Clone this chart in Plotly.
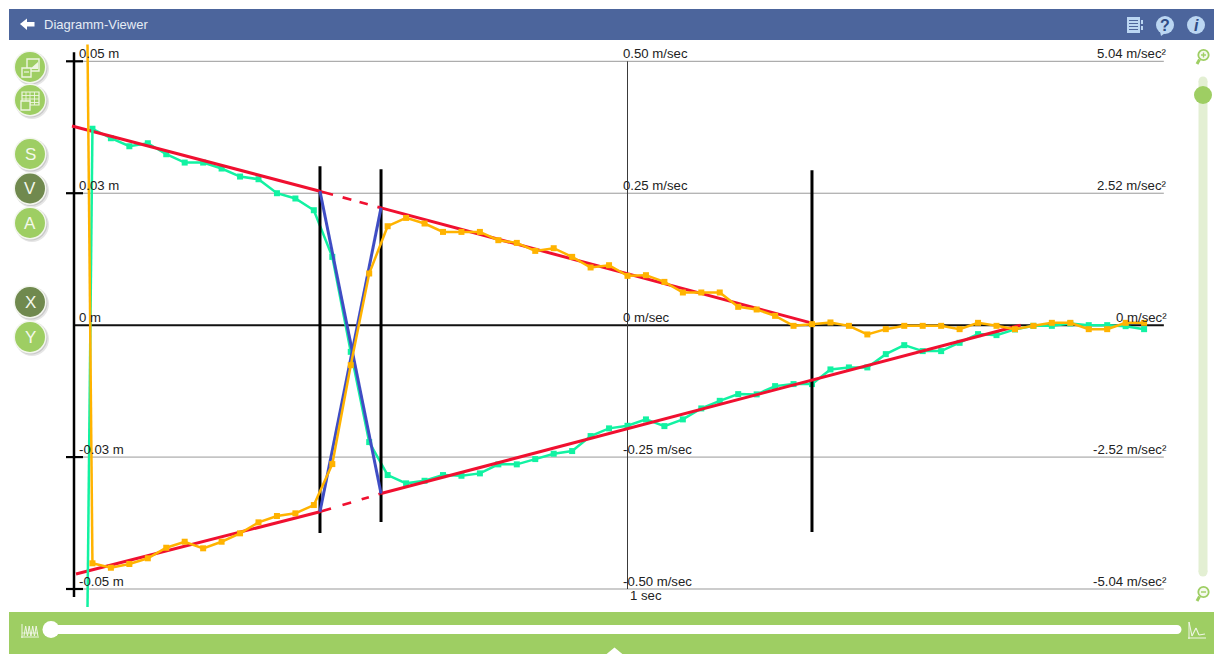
import plotly.graph_objects as go

# ---------- data ----------
times = [0.0244, 1/30, 2/30, 3/30, 4/30, 5/30, 6/30, 7/30, 8/30, 9/30, 10/30, 11/30, 12/30, 13/30, 14/30, 15/30,
         16/30, 17/30, 18/30, 19/30, 20/30, 21/30, 22/30, 23/30, 24/30, 25/30, 26/30, 27/30, 28/30, 29/30, 30/30,
         31/30, 32/30, 33/30, 34/30, 35/30, 36/30, 37/30, 38/30, 39/30, 40/30, 41/30, 42/30, 43/30, 44/30, 45/30,
         46/30, 47/30, 48/30, 49/30, 50/30, 51/30, 52/30, 53/30, 54/30, 55/30, 56/30, 57/30, 58/30]

green_m = [-0.0534, 0.03722, 0.03542, 0.03390, 0.03447, 0.03239, 0.03081, 0.03081, 0.02968, 0.02816, 0.02765,
           0.02500, 0.02400, 0.02178, 0.01294, -0.00506, -0.02216, -0.02841, -0.02998, -0.02949, -0.02841,
           -0.02854, -0.02809, -0.02638, -0.02638, -0.02538, -0.02437, -0.02386, -0.02102, -0.01956, -0.01907,
           -0.01786, -0.01913, -0.01786, -0.01578, -0.01434, -0.01307, -0.01312, -0.01155, -0.01117, -0.01117,
           -0.00839, -0.00801, -0.00801, -0.00549, -0.00379, -0.00492, -0.00492, -0.00335, -0.00170, -0.00189,
           -0.00081, -0.00013, -0.00013, 0.00032, 0.0, 0.0, -0.00019, -0.00076]

orange_ms = [0.532, -0.4513, -0.4597, -0.4526, -0.4418, -0.4218, -0.4104, -0.4229, -0.4104, -0.3945, -0.3737,
             -0.3617, -0.3566, -0.3409, -0.2633, -0.0758, 0.0979, 0.1875, 0.2032, 0.1926, 0.1767, 0.1767, 0.1767,
             0.1610, 0.1559, 0.1407, 0.1458, 0.1294, 0.1093, 0.1136, 0.0934, 0.0947, 0.0820, 0.0619, 0.0619,
             0.0619, 0.0347, 0.0297, 0.0176, -0.0013, 0.0019, 0.0051, -0.0013, -0.0176, -0.0076, -0.0013, -0.0013,
             -0.0013, -0.0076, 0.0044, -0.0013, -0.0076, -0.0013, 0.0044, 0.0044, -0.0076, -0.0076, 0.0044, 0.0044]

red_solid_top_t = [-0.0036, 0.4444]
red_solid_top_y = [0.03775, 0.02538]
red_dash_top_t = [0.4444, 0.5547]
red_dash_top_y = [0.02538, 0.02223]
red_solid_top2_t = [0.5547, 1.3333]
red_solid_top2_y = [0.02223, 0.00038]
red_solid_bot_t = [0.0036, 0.4444]
red_solid_bot_y = [-0.04716, -0.03536]
red_dash_bot_t = [0.4444, 0.5547]
red_dash_bot_y = [-0.03536, -0.03191]
red_solid_bot2_t = [0.5547, 1.7104]
red_solid_bot2_y = [-0.03191, 0.0]

blue_a_t = [0.4444, 0.5547]
blue_a_y = [0.02538, -0.03191]
blue_b_t = [0.4444, 0.5547]
blue_b_y = [-0.03536, 0.02223]

cursor_t = [0.4444, 0.5547, 1.3333]
cursor_top = [0.03011, 0.02955, 0.02936]
cursor_bot = [-0.03939, -0.03731, -0.03920]

y_ticks = [0.05, 0.025, 0, -0.025, -0.05]
m_labels = ["0.05 m", "0.03 m", "0 m", "-0.03 m", "-0.05 m"]
ms_labels = ["0.50 m/sec", "0.25 m/sec", "0 m/sec", "-0.25 m/sec", "-0.50 m/sec"]
ms2_labels = ["5.04 m/sec²", "2.52 m/sec²", "0 m/sec²", "-2.52 m/sec²", "-5.04 m/sec²"]
x_tick = [1]
x_labels = ["1 sec"]
x_end = [1.969]
button_labels = ["S", "V", "A", "X", "Y"]
title_text = "Diagramm-Viewer"

# ---------- styling ----------
W, H = 1214, 654
FONT = "Liberation Sans"
GREEN = "#12F2A2"
ORANGE = "#FFB300"
RED = "#F01030"
BLUE = "#3F4DC4"
BAR = "#4C659C"
LIME = "#9ECE63"
DARK = "#70894E"
TRACK = "#E3EFD3"
LBLUE = "#BBD6F2"

PX_ORIGIN, PY_ZERO, PX_PER_SEC, PX_PER_M = 74.0, 325.15, 553.5, 5277.0


def px(x):
    return x / W


def py(y):
    return 1 - y / H


shapes = []
annots = []


def rect(x0, y0, x1, y1, fill, line=None, lw=1, layer="below", opacity=1):
    shapes.append(dict(type="rect", xref="paper", yref="paper", x0=px(x0), x1=px(x1), y0=py(y1), y1=py(y0),
                       fillcolor=fill, opacity=opacity, layer=layer,
                       line=dict(width=lw if line else 0, color=line or fill)))


def circle(cx, cy, r, fill, line=None, lw=1, opacity=1, layer="below"):
    shapes.append(dict(type="circle", xref="paper", yref="paper", x0=px(cx - r), x1=px(cx + r), y0=py(cy + r),
                       y1=py(cy - r), fillcolor=fill, opacity=opacity, layer=layer,
                       line=dict(width=lw if line else 0, color=line or fill)))


def seg(x0, y0, x1, y1, color, lw=1, layer="below"):
    shapes.append(dict(type="line", xref="paper", yref="paper", x0=px(x0), x1=px(x1), y0=py(y0), y1=py(y1),
                       layer=layer, line=dict(color=color, width=lw)))


def poly(points, fill, layer="below"):
    path = "M " + " L ".join(f"{px(a):.5f},{py(b):.5f}" for a, b in points) + " Z"
    shapes.append(dict(type="path", xref="paper", yref="paper", path=path, fillcolor=fill, layer=layer,
                       line=dict(width=0, color=fill)))


def text(x, y, s, size=13, color="#222222", anchor="left", bold=False, italic=False):
    if bold:
        s = f"<b>{s}</b>"
    if italic:
        s = f"<i>{s}</i>"
    annots.append(dict(xref="paper", yref="paper", x=px(x), y=py(y), text=s,
                       showarrow=False, xanchor=anchor, yanchor="middle", borderpad=0, borderwidth=0,
                       font=dict(family=FONT, size=size, color=color)))


# header bar
rect(9, 9, W + 1, 40, BAR)
poly([(20, 24), (27, 18.5), (27, 22), (34.5, 22), (34.5, 26.5), (27, 26.5), (27, 30)], "#FFFFFF")
text(44, 24.5, title_text, size=13, color="#E6ECF5")
# header icons
rect(1127, 17, 1140, 33, LBLUE)
for yy in (20.5, 23.5, 26.5, 29.5):
    seg(1129, yy, 1138, yy, BAR, 1)
rect(1141, 20, 1143, 24, LBLUE)
rect(1141, 26, 1143, 30, LBLUE)
poly([(1160, 31), (1168, 31), (1161, 36)], LBLUE)
circle(1165, 25, 9, LBLUE)
text(1165, 25.5, "?", size=16, color="#2F4C85", anchor="center", bold=True)
circle(1196, 25, 9, LBLUE)
text(1196, 25.5, "i", size=16, color="#2F4C85", anchor="center", bold=True, italic=True)

# left round buttons
buttons = [(67, LIME, None), (100, LIME, None), (154, LIME, "S"), (188.5, DARK, "V"), (223, LIME, "A"),
           (302, DARK, "X"), (337, LIME, "Y")]
letter_iter = iter(button_labels)
for cy, col, has in buttons:
    circle(32, cy + 2, 17, "#000000", opacity=0.10)
    circle(31, cy + 1, 16.5, "#000000", opacity=0.12)
    circle(30, cy, 16.5, "#F3F6EE")
    circle(30, cy, 15, col)
    if has:
        text(30.2, cy + 0.5, next(letter_iter), size=17, color="#F4F8EC", anchor="center")
# save image icon
rect(27, 59, 39, 71, "rgba(0,0,0,0)", "#EEF5E2", 1.4)
rect(22, 68, 31, 77, LIME, "#EEF5E2", 1.4)
seg(24, 72, 29, 72, "#EEF5E2", 1.2)
poly([(30, 69), (38, 69), (38, 62)], "#EEF5E2")
# save table icon
rect(22, 92, 39, 105, "rgba(0,0,0,0)", "#EEF5E2", 1.2)
for yy in (95.5, 99, 102.5):
    seg(22, yy, 39, yy, "#EEF5E2", 0.9)
for xx in (26, 30, 34.5):
    seg(xx, 92, xx, 105, "#EEF5E2", 0.9)
rect(21, 101, 30, 110, LIME, "#EEF5E2", 1.3)

# right zoom slider
rect(1198.5, 81, 1207.5, 572, TRACK)
circle(1203, 81, 4.5, TRACK)
circle(1203, 572, 4.5, TRACK)
circle(1203, 95, 9, LIME)
for cy, plus in ((55, True), (592, False)):
    circle(1203.5, cy, 5.2, "#F5F9EE", LIME, 1.8)
    seg(1201, cy, 1206, cy, LIME, 1.4)
    if plus:
        seg(1203.5, cy - 2.5, 1203.5, cy + 2.5, LIME, 1.4)
    seg(1199.5, cy + 4.5, 1197, cy + 9, LIME, 3)

# bottom slider bar
rect(9, 612, W + 1, H + 1, LIME)
rect(50, 625, 1177, 634, "#FFFFFF")
circle(1177, 629.5, 4.5, "#FFFFFF")
circle(51, 629.5, 8.5, "#FFFFFF")
poly([(606, 654.5), (614.5, 647.5), (623, 654.5)], "#FFFFFF")
# bottom-left icon
seg(21, 637, 39, 637, "#F0F6E6", 1)
seg(22, 624, 22, 638, "#F0F6E6", 1)
for xx in (24, 27.5, 31, 34.5):
    seg(xx, 636, xx + 1.7, 626, "#F0F6E6", 1)
    seg(xx + 1.7, 626, xx + 3.4, 636, "#F0F6E6", 1)
seg(22, 633, 38, 633, "#F0F6E6", 0.8)
# bottom-right icon
seg(1188, 638, 1206, 638, "#F0F6E6", 1)
seg(1189, 622, 1189, 639, "#F0F6E6", 1)
for a, b, c, d in [(1189, 622, 1192, 636), (1192, 636, 1196, 628), (1196, 628, 1199, 635), (1199, 635, 1205, 634)]:
    seg(a, b, c, d, "#F0F6E6", 1.1)

# axis text
lab = dict(family=FONT, size=13.2, color="#222222")
for v, a, b, c in zip(y_ticks, m_labels, ms_labels, ms2_labels):
    annots.append(dict(xref="x", yref="y", x=0, xshift=3, y=v, yshift=8, text=a, showarrow=False, xanchor="left",
                       yanchor="middle", font=lab))
    annots.append(dict(xref="x", yref="y", x=x_tick[0], xshift=-6.5, y=v, yshift=8, text=b, showarrow=False,
                       xanchor="left", yanchor="middle", font=lab))
    annots.append(dict(xref="x", yref="y", x=x_end[0], xshift=5, y=v, yshift=8, text=c, showarrow=False,
                       xanchor="right", yanchor="middle", font=lab))
annots.append(dict(xref="x", yref="y", x=x_tick[0], xshift=0, y=y_ticks[-1], yshift=-6.5, text=x_labels[0],
                   showarrow=False, xanchor="left", yanchor="middle", font=lab))

fig = go.Figure()
no_hover = dict(hoverinfo="skip", showlegend=False)

# grid, zero line, centre line
for v in y_ticks:
    is_zero = v == 0
    fig.add_trace(go.Scatter(x=[0, x_end[0]], y=[v, v], mode="lines",
                             line=dict(color="#111111" if is_zero else "#999999", width=2 if is_zero else 1),
                             **no_hover))
fig.add_trace(go.Scatter(x=[x_tick[0], x_tick[0]], y=[y_ticks[0], y_ticks[-1]], mode="lines",
                         line=dict(color="#3A3A3A", width=1), **no_hover))

# left axis and its crossbars
fig.add_trace(go.Scatter(x=[0, 0], y=[0.0517, -0.0515], mode="lines", line=dict(color="#000000", width=2.5),
                         **no_hover))
for v in y_ticks:
    if v != 0:
        fig.add_trace(go.Scatter(x=[-0.0145, 0.0163], y=[v, v], mode="lines", line=dict(color="#000000", width=2.2),
                                 **no_hover))

# sampled series (the first steep segment is redrawn on top further down)
fig.add_trace(go.Scatter(x=times[1:], y=green_m[1:], mode="lines+markers", line=dict(color=GREEN, width=2.5),
                         marker=dict(symbol="square", size=6, color=GREEN), **no_hover))
fig.add_trace(go.Scatter(x=times[1:], y=orange_ms[1:], yaxis="y2", mode="lines+markers",
                         line=dict(color=ORANGE, width=2.5), marker=dict(symbol="square", size=6, color=ORANGE),
                         **no_hover))

# cursors
for t, a, b in zip(cursor_t, cursor_top, cursor_bot):
    fig.add_trace(go.Scatter(x=[t, t], y=[a, b], mode="lines", line=dict(color="#000000", width=3), **no_hover))

# tangents
for tx, ty in [(red_solid_top_t, red_solid_top_y), (red_solid_top2_t, red_solid_top2_y),
               (red_solid_bot_t, red_solid_bot_y), (red_solid_bot2_t, red_solid_bot2_y)]:
    fig.add_trace(go.Scatter(x=tx, y=ty, mode="lines", line=dict(color=RED, width=3), **no_hover))
fig.add_trace(go.Scatter(x=red_dash_top_t, y=red_dash_top_y, mode="lines",
                         line=dict(color=RED, width=2.7, dash="13.5px,10px,9px,8.5px,8.5px,10px,4px"), **no_hover))
fig.add_trace(go.Scatter(x=red_dash_bot_t, y=red_dash_bot_y, mode="lines",
                         line=dict(color=RED, width=2.7, dash="11.5px,12px,9px,11px,7.5px,10px,2px"), **no_hover))
for tx, ty in [(blue_a_t, blue_a_y), (blue_b_t, blue_b_y)]:
    fig.add_trace(go.Scatter(x=tx, y=ty, mode="lines", line=dict(color=BLUE, width=3), **no_hover))

# steep first segments
fig.add_trace(go.Scatter(x=times[:2], y=green_m[:2], mode="lines", line=dict(color=GREEN, width=2.5), **no_hover))
fig.add_trace(go.Scatter(x=times[:2], y=orange_ms[:2], yaxis="y2", mode="lines", line=dict(color=ORANGE, width=2.5),
                         **no_hover))

y_lo = (PY_ZERO - H) / PX_PER_M
y_hi = PY_ZERO / PX_PER_M
hidden = dict(visible=False, showgrid=False, zeroline=False, fixedrange=True)
fig.update_layout(
    width=W, height=H, margin=dict(l=0, r=0, t=0, b=0), autosize=False,
    paper_bgcolor="#FFFFFF", plot_bgcolor="rgba(0,0,0,0)", showlegend=False, hovermode=False,
    font=dict(family=FONT, size=13, color="#222222"),
    xaxis=dict(domain=[0, 1], range=[-PX_ORIGIN / PX_PER_SEC, (W - PX_ORIGIN) / PX_PER_SEC], **hidden),
    yaxis=dict(domain=[0, 1], range=[y_lo, y_hi], **hidden),
    yaxis2=dict(domain=[0, 1], range=[y_lo * 10, y_hi * 10], overlaying="y", side="right", **hidden),
    shapes=shapes, annotations=annots,
)

fig.write_html("out.html", config=dict(displayModeBar=False, staticPlot=True),
               post_script="document.body.style.margin='0';document.body.style.overflow='hidden';")
